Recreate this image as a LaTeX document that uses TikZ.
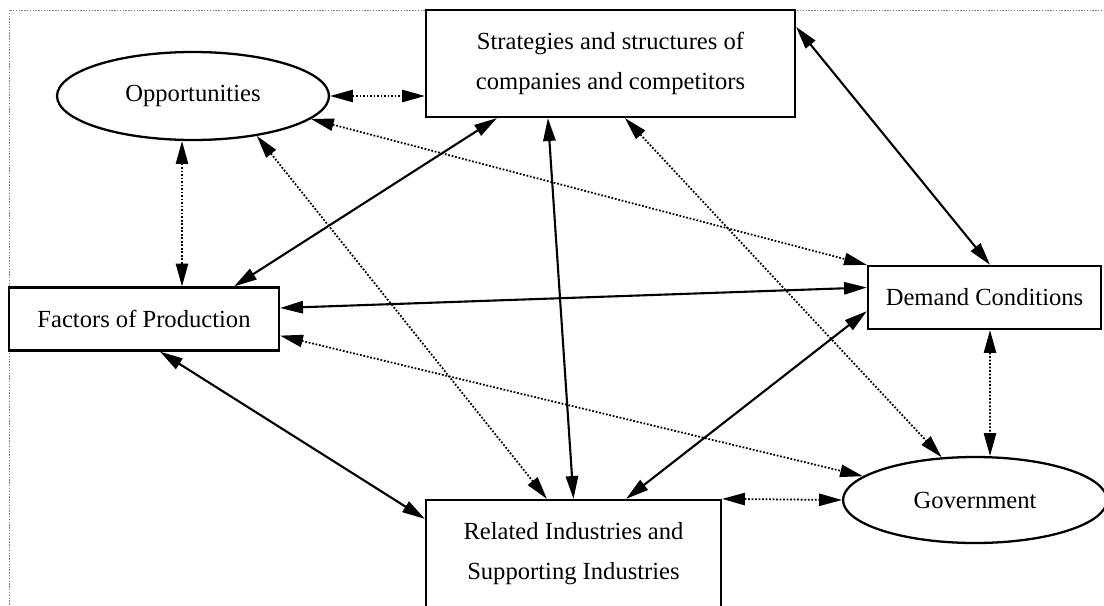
\documentclass[tikz,border=0pt]{standalone}
\usepackage{fontspec}
\setmainfont{Liberation Serif}
\usetikzlibrary{arrows.meta,calc,shapes.geometric}

\begin{document}
\begin{tikzpicture}[x=0.02cm,y=-0.02cm,
    >={Triangle[length=13pt,width=7pt]},
    every node/.style={font=\fontsize{14}{22.8}\selectfont},
    factorbox/.style={draw,line width=1.3pt,rectangle,align=center,inner sep=0pt},
    chancebox/.style={draw,line width=1.3pt,ellipse,inner sep=0pt},
    strong/.style={<->,line width=1.2pt},
    weak/.style={<->,line width=1pt,dash pattern=on 1pt off 1pt}]
    \path[use as bounding box,clip] (0,0) rectangle (1104,605);
    \draw[gray,line width=0.5pt,dash pattern=on 0.8pt off 0.8pt] (9,10) rectangle (1140,640);
    \node[factorbox,minimum width=7.38cm,minimum height=2.14cm] (strat) at (610.5,63.5)
        {Strategies and structures of\\companies and competitors};
    \node[factorbox,minimum width=5.9cm,minimum height=2.16cm] (related) at (573.5,554)
        {Related Industries and\\Supporting Industries};
    \node[factorbox,minimum width=5.4cm,minimum height=1.26cm] (factors) at (144,319) {Factors of Production};
    \node[factorbox,minimum width=4.66cm,minimum height=1.26cm] (demand) at (984.5,297.5) {Demand Conditions};
    \node[chancebox,minimum width=5.44cm,minimum height=1.76cm] (opp) at (193,96) {Opportunities};
    \node[chancebox,minimum width=5.28cm,minimum height=1.72cm] (govt) at (975,500) {Government};
    \draw[strong] ($(strat.north east)+(0,18)$) -- ($(demand.north)+(5.5,0)$);
    \draw[strong] ($(strat.south west)+(72,0)$) -- ($(factors.north east)+(-46,0)$);
    \draw[strong] ($(strat.south west)+(123,0)$) -- (related.north);
    \draw[strong] ($(factors.east)+(0,-11)$) -- ($(demand.west)+(0,-10)$);
    \draw[strong] ($(factors.south)+(16,0)$) -- ($(related.north west)+(0,20)$);
    \draw[strong] ($(related.north east)+(-96,0)$) -- ($(demand.south west)+(0,-19)$);
    \draw[weak] (opp.east) -- (opp.east -| strat.west);
    \draw[weak] ($(opp.south)+(-11,0)$) -- ($(factors.north)+(38,0)$);
    \draw[weak] (opp.-11) -- (demand.north west);
    \draw[weak] (opp.-32) -- ($(related.north west)+(122,0)$);
    \draw[weak] ($(strat.south)+(14.5,0)$) -- (govt.128);
    \draw[weak] ($(factors.south east)+(0,-16)$) -- (govt.168);
    \draw[weak] (related.north east) -- (govt.west);
    \draw[weak] ($(demand.south)+(5.5,0)$) -- ($(govt.north)+(15,0)$);
\end{tikzpicture}
\end{document}
